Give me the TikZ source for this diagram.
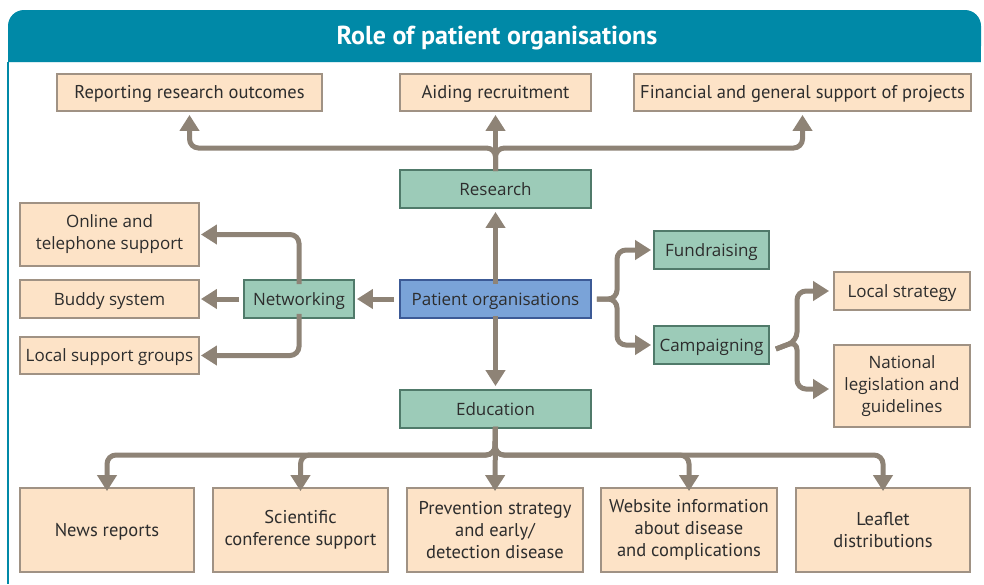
\documentclass[tikz,border=0pt]{standalone}
\usepackage{fontspec}
\setmainfont{Open Sans}
\newfontfamily\condfont{PT Sans}
\usetikzlibrary{arrows.meta}
\definecolor{hdrteal}{RGB}{0,137,167}
\definecolor{peachfill}{RGB}{253,227,199}
\definecolor{peachline}{RGB}{160,146,132}
\definecolor{greenfill}{RGB}{156,203,184}
\definecolor{greenline}{RGB}{80,122,106}
\definecolor{bluefill}{RGB}{122,163,216}
\definecolor{blueline}{RGB}{60,90,150}
\definecolor{arrowcol}{RGB}{142,131,118}
\definecolor{txtcol}{RGB}{45,45,45}
\tikzset{
  basebox/.style={draw, line width=1.8pt, inner sep=2pt, align=center, text=txtcol},
  peach/.style={basebox, fill=peachfill, draw=peachline},
  greenbox/.style={basebox, fill=greenfill, draw=greenline, font=\fontsize{17}{22}\selectfont, oneline},
  bluebox/.style={basebox, fill=bluefill, draw=blueline, font=\fontsize{17}{22}\selectfont, oneline},
  midtxt/.style={font=\fontsize{17}{22}\selectfont},
  condtxt/.style={font=\condfont\fontsize{18.5}{22}\selectfont},
  oneline/.style={text height=16pt, text depth=4pt},
  conn/.style={draw=arrowcol, line width=5pt, rounded corners=9pt,
    -{Triangle[width=19pt,length=16pt]}},
}
\begin{document}
\begin{tikzpicture}[x=1pt,y=-1pt]
\useasboundingbox (0,0) rectangle (984,584);
% frame
\fill[hdrteal, rounded corners=16pt] (8,62) -- (8,10) -- (981,10) -- (981,62) -- cycle;
\fill[hdrteal] (8,40) rectangle (981,62);
\draw[white!85!hdrteal, line width=1.2pt] (8,62.5) -- (981,62.5);
\draw[hdrteal, line width=1.5pt] (8,62) -- (8,584);
\node[text=white, font=\condfont\bfseries\fontsize{26}{28}\selectfont, text height=19pt, text depth=6pt] (title) at (497,38) {Role of patient organisations};

% top row
\node[peach, condtxt, oneline, minimum width=265, minimum height=37] (rep) at (189.5,92.5) {Reporting research outcomes};
\node[peach, condtxt, oneline, minimum width=191, minimum height=37] (aid) at (495.5,92.5) {Aiding recruitment};
\node[peach, condtxt, oneline, minimum width=337, minimum height=37] (fin) at (802.5,92.5) {Financial and general support of projects};

% centre column
\node[greenbox, minimum width=191, minimum height=38] (res) at (495.5,189) {Research};
\node[bluebox, minimum width=191, minimum height=38] (po) at (495.5,299) {Patient organisations};
\node[greenbox, minimum width=191, minimum height=38] (edu) at (495.5,409) {Education};

% left
\node[greenbox, minimum width=110, minimum height=38] (net) at (299,299) {Networking};
\node[peach, midtxt, minimum width=179, minimum height=63] (onl) at (109.5,234.5) {Online and\\telephone support};
\node[peach, midtxt, oneline, minimum width=179, minimum height=38] (bud) at (109.5,299) {Buddy system};
\node[peach, midtxt, oneline, minimum width=179, minimum height=37] (loc) at (109.5,355.5) {Local support groups};

% right
\node[greenbox, minimum width=115, minimum height=38] (fund) at (711.5,250) {Fundraising};
\node[greenbox, minimum width=115, minimum height=38] (camp) at (711.5,345) {Campaigning};
\node[peach, midtxt, oneline, minimum width=136, minimum height=38] (lstr) at (902,291) {Local strategy};
\node[peach, midtxt, minimum width=136, minimum height=82] (nat) at (902,386) {National\\legislation and\\guidelines};

% bottom row
\node[peach, condtxt, oneline, minimum width=174, minimum height=84] (news) at (107,530) {News reports};
\node[peach, condtxt, minimum width=175, minimum height=84] (sci) at (300.5,530) {Scientific\\conference support};
\node[peach, condtxt, minimum width=176, minimum height=84] (prev) at (495,530) {Prevention strategy\\and early/\\detection disease};
\node[peach, condtxt, minimum width=176, minimum height=84] (web) at (689,530) {Website information\\about disease\\and complications};
\node[peach, condtxt, minimum width=174, minimum height=84] (leaf) at (883,530) {Leaflet\\distributions};

% research branches
\draw[conn] ([yshift=-2pt]res.north) -- (495.5,148) -| ([yshift=-3pt]rep.south);
\draw[conn] ([yshift=-2pt]res.north) -- ([yshift=-3pt]aid.south);
\draw[conn] ([yshift=-2pt]res.north) -- (495.5,148) -| ([yshift=-3pt]fin.south);

% vertical links
\draw[conn] ([yshift=-5pt]po.north) -- ([yshift=-3pt]res.south);
\draw[conn] ([yshift=3pt]po.south) -- ([yshift=3pt]edu.south |- edu.north);

% networking
\draw[conn] ([xshift=-5pt]po.west) -- ([xshift=2pt]net.east);
\draw[conn] ([xshift=-4pt]net.west) -- ([xshift=1pt]bud.east);
\draw[conn] ([yshift=-5pt]net.north) |- ([xshift=1pt]onl.east);
\draw[conn] ([yshift=5pt]net.south) |- ([xshift=1pt]loc.east);

% fundraising / campaigning
\draw[conn] ([xshift=5pt]po.east) -- (617,299) |- ([xshift=-2pt]fund.west);
\draw[conn] ([xshift=5pt]po.east) -- (617,299) |- ([xshift=-2pt]camp.west);
\draw[conn] ([xshift=6pt,yshift=-4pt]camp.east) -- (797,341) |- ([xshift=-4pt]lstr.west);
\draw[conn] ([xshift=6pt,yshift=-4pt]camp.east) -- (797,341) |- ([xshift=-4pt,yshift=-3pt]nat.west);

% education branches
\draw[conn] ([yshift=2pt]edu.south) -- (495,455) -| ([yshift=-4pt]news.north);
\draw[conn] ([yshift=2pt]edu.south) -- (495,455) -| ([yshift=-4pt]sci.north);
\draw[conn] ([yshift=2pt]edu.south) -- ([yshift=-4pt]prev.north);
\draw[conn] ([yshift=2pt]edu.south) -- (495,455) -| ([yshift=-4pt]web.north);
\draw[conn] ([yshift=2pt]edu.south) -- (495,455) -| ([yshift=-4pt]leaf.north);
\end{tikzpicture}
\end{document}
